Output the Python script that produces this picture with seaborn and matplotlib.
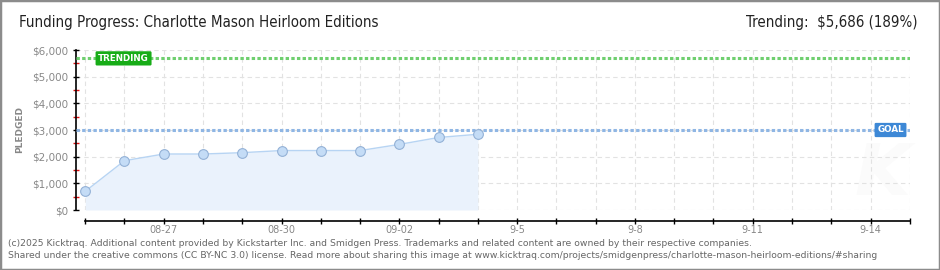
import matplotlib
matplotlib.use("Agg")
import matplotlib.pyplot as plt
import seaborn as sns
import pandas as pd
from matplotlib.patches import Rectangle
from matplotlib.ticker import MultipleLocator

# ---- data ----
start_date = "2025-08-25"
end_date = "2025-09-15"
dates = ["2025-08-25", "2025-08-26", "2025-08-27", "2025-08-28", "2025-08-29",
         "2025-08-30", "2025-08-31", "2025-09-01", "2025-09-02", "2025-09-03",
         "2025-09-04"]
pledged = [700, 1850, 2100, 2100, 2150, 2230, 2230, 2230, 2460, 2720, 2840]
goal = 3000
trending = 5686
tick_dates = ["2025-08-27", "2025-08-30", "2025-09-02", "2025-09-05",
              "2025-09-08", "2025-09-11", "2025-09-14"]
tick_labels = ["08-27", "08-30", "09-02", "9-5", "9-8", "9-11", "9-14"]
y_ticks = [0, 1000, 2000, 3000, 4000, 5000, 6000]
y_labels = ["$0", "$1,000", "$2,000", "$3,000", "$4,000", "$5,000", "$6,000"]
title = "Funding Progress: Charlotte Mason Heirloom Editions"
trend_text = "Trending:  $5,686 (189%)"
footer1 = ("(c)2025 Kicktraq. Additional content provided by Kickstarter Inc. and Smidgen Press. "
           "Trademarks and related content are owned by their respective companies.")
footer2 = ("Shared under the creative commons (CC BY-NC 3.0) license. Read more about sharing this "
           "image at www.kicktraq.com/projects/smidgenpress/charlotte-mason-heirloom-editions/#sharing")

t0 = pd.Timestamp(start_date)
days = [(pd.Timestamp(d) - t0).days for d in dates]
tick_days = [(pd.Timestamp(d) - t0).days for d in tick_dates]
last_day = (pd.Timestamp(end_date) - t0).days
df = pd.DataFrame({"day": days, "pledged": pledged})

# ---- style ----
sns.set_style("white")
plt.rcParams["font.family"] = ["DejaVu Sans"]

W, H = 940, 270
fig = plt.figure(figsize=(W / 100, H / 100), dpi=100)
ax_left, ax_right, ax_top, ax_bottom = 76, 909.8, 50, 210
ax = fig.add_axes([ax_left / W, (H - ax_bottom) / H,
                   (ax_right - ax_left) / W, (ax_bottom - ax_top) / H])

ax.set_xlim(-0.235, last_day)
ax.set_ylim(0, 6000)

# watermark
ax.text(20.3, 1300, "K", fontsize=52, fontstyle="italic", fontweight="bold",
        color="#fbfbfb", ha="center", va="center", zorder=0)

# fill + line
ax.fill_between(df["day"], df["pledged"], 0, color="#eaf2fc", lw=0, zorder=1)
sns.lineplot(data=df, x="day", y="pledged", ax=ax, color="#b7d4f3", lw=1.0,
             marker="o", markersize=7, markerfacecolor="#c4dcf6",
             markeredgecolor="#93b1d6", markeredgewidth=0.8, zorder=4)

# reference lines
ax.axhline(trending, color="#6fcf6f", lw=2.2, ls=(0, (1.1, 0.75)),
           dash_capstyle="butt", zorder=3)
ax.axhline(goal, color="#8fb6e4", lw=2.2, ls=(0, (1.1, 0.75)),
           dash_capstyle="butt", zorder=3)

ax.text(0.33, trending, "TRENDING", ha="left", va="center", color="white",
        fontsize=6.3, fontweight="bold", zorder=6,
        bbox=dict(boxstyle="round,pad=0.3,rounding_size=0.15", fc="#17ac17", ec="none"))
ax.text(20.17, goal, "GOAL", ha="left", va="center", color="white",
        fontsize=6.3, fontweight="bold", zorder=6,
        bbox=dict(boxstyle="round,pad=0.3,rounding_size=0.15", fc="#3d88d6", ec="none"))

# grid & ticks
ax.set_xticks(range(0, last_day + 1))
ax.set_xticklabels([tick_labels[tick_days.index(d)] if d in tick_days else ""
                    for d in range(0, last_day + 1)])
ax.set_yticks(y_ticks)
ax.set_yticklabels(y_labels)
ax.yaxis.set_minor_locator(MultipleLocator(500))
ax.grid(True, which="major", color="#e2e2e2", ls=(0, (4, 3)), lw=0.8)
ax.set_axisbelow(True)

for s in ["top", "right"]:
    ax.spines[s].set_visible(False)
ax.spines["left"].set_color("black")
ax.spines["left"].set_linewidth(1.2)
ax.spines["left"].set_bounds(0, 6000)
ax.spines["bottom"].set_color("black")
ax.spines["bottom"].set_linewidth(1.2)
ax.spines["bottom"].set_position(("outward", 7.6))
ax.spines["bottom"].set_bounds(0, last_day)

ax.tick_params(axis="both", which="both", bottom=True, left=True, top=False, right=False)
ax.tick_params(axis="x", which="major", direction="inout", length=5, width=1,
               color="black", labelsize=7, labelcolor="#888888", pad=0.5)
ax.tick_params(axis="y", which="major", direction="inout", length=4.5, width=1,
               color="black", labelsize=7.5, labelcolor="#888888", pad=3.5)
ax.tick_params(axis="y", which="minor", direction="inout", length=4.5, width=1,
               color="#e01010")
ax.set_xlabel("")
ax.set_ylabel("")

# texts
fig.text(20 / W, 1 - 130 / H, "PLEDGED", rotation=90, fontsize=6.5, color="#888888",
         ha="center", va="center", fontweight="bold")
fig.text(19 / W, 1 - 23 / H, title, fontsize=10.8, color="#222222",
         ha="left", va="center", fontstretch="condensed")
fig.text(918 / W, 1 - 23 / H, trend_text, fontsize=10.8, color="#222222",
         ha="right", va="center", fontstretch="condensed")
fig.text(8 / W, 1 - 243 / H, footer1, fontsize=6.65, color="#666666", ha="left", va="center")
fig.text(8 / W, 1 - 256 / H, footer2, fontsize=6.65, color="#666666", ha="left", va="center")

fig.patches.append(Rectangle((0, 0), 1, 1, transform=fig.transFigure, fill=False,
                             ec="#8c8c8c", lw=2.5))

fig.savefig("out.png", dpi=100)
